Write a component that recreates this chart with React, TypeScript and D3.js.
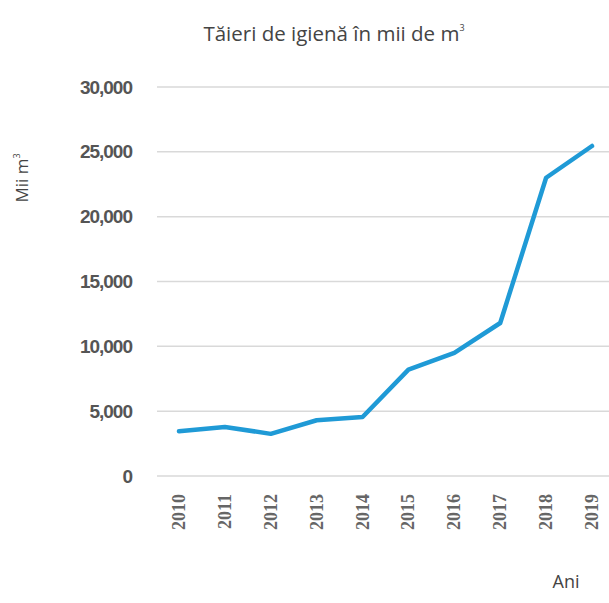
import React, { useEffect, useRef } from 'react';
import * as d3 from 'd3';

const years = ['2010', '2011', '2012', '2013', '2014', '2015', '2016', '2017', '2018', '2019'];
const values = [3450, 3780, 3250, 4300, 4550, 8200, 9500, 11800, 23000, 25450];
const yTicks = [0, 5000, 10000, 15000, 20000, 25000, 30000];

const W = 609;
const H = 603;

export default function App() {
  const svgRef = useRef<SVGSVGElement>(null);

  useEffect(() => {
    if (!svgRef.current) return;
    const svg = d3.select(svgRef.current);
    svg.selectAll('*').remove();

    const x = d3.scalePoint<string>().domain(years).range([179, 592]);
    const y = d3.scaleLinear().domain([0, 30000]).range([476, 87]);

    // gridlines
    svg.append('g')
      .selectAll('line')
      .data(yTicks)
      .join('line')
      .attr('x1', 157)
      .attr('x2', W)
      .attr('y1', d => y(d))
      .attr('y2', d => y(d))
      .attr('stroke', '#d9d9d9')
      .attr('stroke-width', 1.5);

    // y tick labels
    svg.append('g')
      .selectAll('text')
      .data(yTicks)
      .join('text')
      .attr('x', 132)
      .attr('y', d => y(d))
      .attr('dy', '0.35em')
      .attr('text-anchor', 'end')
      .style('font-family', '"Liberation Sans", sans-serif')
      .style('font-size', '19px')
      .style('font-weight', '600')
      .style('letter-spacing', '-1px')
      .style('fill', '#555')
      .text(d => d3.format(',')(d));

    // x tick labels
    svg.append('g')
      .selectAll('text')
      .data(years)
      .join('text')
      .attr('transform', d => `translate(${x(d)! + 6},494) rotate(-90)`)
      .attr('text-anchor', 'end')
      .style('font-family', '"Liberation Serif", serif')
      .style('font-size', '18px')
      .style('font-weight', 'bold')
      .style('fill', '#666')
      .text(d => d);

    const line = d3.line<number>()
      .x((_, i) => x(years[i])!)
      .y(d => y(d));

    svg.append('path')
      .datum(values)
      .attr('d', line)
      .attr('fill', 'none')
      .attr('stroke', '#1f9ad6')
      .attr('stroke-width', 4.5)
      .attr('stroke-linejoin', 'round')
      .attr('stroke-linecap', 'round');

    // title
    const title = svg.append('text')
      .attr('x', 334)
      .attr('y', 41)
      .attr('text-anchor', 'middle')
      .style('font-family', '"Open Sans", sans-serif')
      .style('font-size', '20.5px')
      .style('fill', '#444');
    title.append('tspan').text('Tăieri de igienă în mii de m');
    title.append('tspan').attr('dy', -10).style('font-size', '9px').text('3');

    // y axis title
    const yt = svg.append('text')
      .attr('transform', 'translate(28,178) rotate(-90)')
      .attr('text-anchor', 'middle')
      .style('font-family', '"Open Sans", sans-serif')
      .style('font-size', '17px')
      .style('fill', '#444');
    yt.append('tspan').text('Mii m');
    yt.append('tspan').attr('dy', -8).style('font-size', '9px').text('3');

    svg.append('text')
      .attr('x', 566)
      .attr('y', 588)
      .attr('text-anchor', 'middle')
      .style('font-family', '"Open Sans", sans-serif')
      .style('font-size', '18px')
      .style('fill', '#444')
      .text('Ani');
  }, []);

  return (
    <svg
      ref={svgRef}
      width={W}
      height={H}
      style={{ position: 'absolute', left: 0, top: 0, background: '#fff' }}
    />
  );
}
